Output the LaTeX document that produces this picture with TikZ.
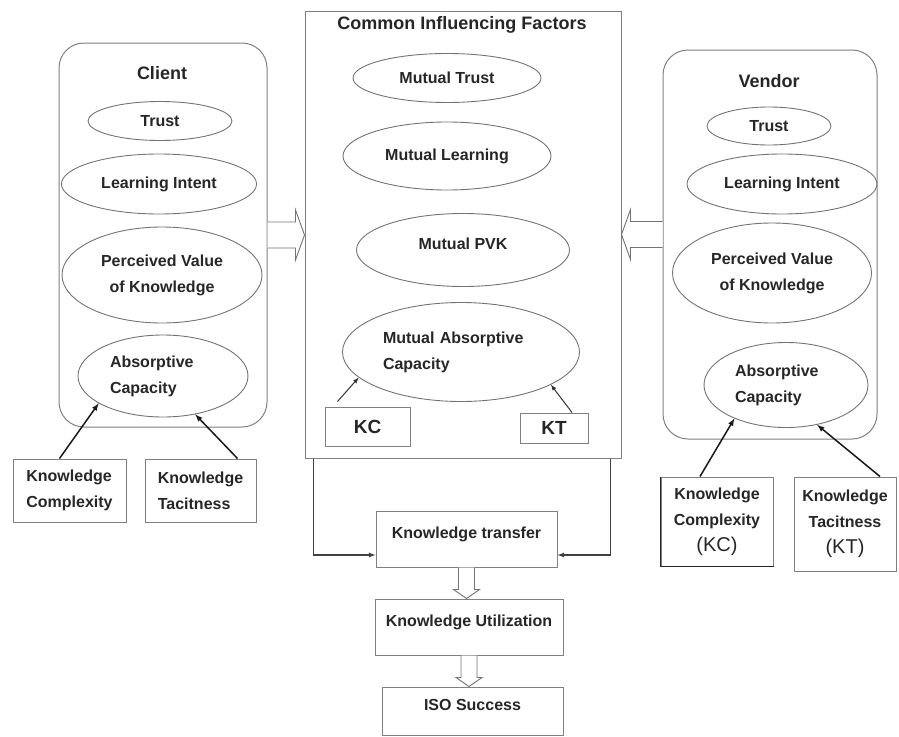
\documentclass[tikz,border=0pt]{standalone}
\usepackage{fontspec}
\setmainfont{Liberation Sans}
\usetikzlibrary{shapes.geometric,calc}

\begin{document}
\begin{tikzpicture}[x=1pt,y=-1pt,
		every node/.style={font=\fontsize{16}{26}\selectfont\bfseries, text=black!85},
		title/.style={font=\fontsize{18}{22}\selectfont\bfseries},
		frame/.style={draw=black!50, line width=1pt},
		oval/.style={ellipse, draw=black!55, line width=0.9pt, inner sep=1pt},
		kbox/.style={rectangle, draw=black!50, line width=1pt},
		textup/.style={text height=12pt, text depth=14pt},
		hollow/.style={draw=black!55, line width=0.9pt, fill=white},
		link/.style={draw=black!90, line width=1.5pt, -latex},
		thinlink/.style={draw=black!80, line width=1pt, -latex}]
		\useasboundingbox (0,0) rectangle (899,736);
		\node[frame, rounded corners=25pt, minimum width=208pt, minimum height=384pt] (client) at (163,235) {};
		\node[title] (clienttitle) at (162,73) {Client};
		\node[oval, minimum width=144pt, minimum height=39pt] (ctrust) at (160,121) {Trust};
		\node[oval, minimum width=195pt, minimum height=60pt] (clearn) at (159,184) {Learning Intent};
		\node[oval, minimum width=200pt, minimum height=96pt, align=center] (cpvk) at (162,275) {Perceived Value\\of Knowledge};
		\node[oval, minimum width=170pt, minimum height=82pt, text width=106pt, align=left] (cabs) at (163,376) {Absorptive\\Capacity};
		\node[kbox, minimum width=113pt, minimum height=63pt, align=left] (ckc) at (69.5,490.5) {Knowledge\\Complexity};
		\node[kbox, minimum width=111pt, minimum height=63pt, align=left] (ckt) at (200.5,490.5) {Knowledge\\Tacitness};
		\node[frame, minimum width=316pt, minimum height=447pt] (common) at (463,234.5) {};
		\node[title] (commontitle) at (462,25) {Common Influencing Factors};
		\node[oval, minimum width=188pt, minimum height=49pt] (mtrust) at (447,78) {Mutual Trust};
		\node[oval, minimum width=208pt, minimum height=68pt] (mlearn) at (447,156) {Mutual Learning};
		\node[oval, textup, minimum width=213pt, minimum height=73pt] (mpvk) at (463,250) {Mutual PVK};
		\node[oval, minimum width=237pt, minimum height=99pt, text width=156pt, align=left] (mabs) at (461,352) {Mutual Absorptive\\Capacity};
		\node[kbox, font=\fontsize{19}{22}\selectfont\bfseries, minimum width=85pt, minimum height=39pt] (mkc) at (367.5,426.5) {KC};
		\node[kbox, font=\fontsize{19}{22}\selectfont\bfseries, minimum width=68pt, minimum height=30pt] (mkt) at (554,428) {KT};
		\node[frame, rounded corners=25pt, minimum width=214pt, minimum height=389pt] (vendor) at (770,244.5) {};
		\node[title] (vendortitle) at (769,81) {Vendor};
		\node[oval, minimum width=124pt, minimum height=38pt] (vtrust) at (769,126) {Trust};
		\node[oval, minimum width=190pt, minimum height=60pt] (vlearn) at (782,184) {Learning Intent};
		\node[oval, minimum width=199pt, minimum height=100pt, align=center] (vpvk) at (772,273) {Perceived Value\\of Knowledge};
		\node[oval, minimum width=164pt, minimum height=85pt, text width=102pt, align=left] (vabs) at (786,385) {Absorptive\\Capacity};
		\node[kbox, minimum width=112pt, minimum height=89pt, align=center] (vkc) at (717,521.5) {Knowledge\\Complexity\\{\fontsize{20}{24}\selectfont\mdseries (KC)}};
		\node[kbox, minimum width=102pt, minimum height=94pt, align=center] (vkt) at (845,524) {Knowledge\\Tacitness\\{\fontsize{20}{24}\selectfont\mdseries (KT)}};
		\draw[line width=1.8pt, black!85] (vkc.north west) -- (vkc.south west) -- (vkc.south east);
		\node[kbox, textup, minimum width=181pt, minimum height=56pt] (ktrans) at (466.5,539) {Knowledge transfer};
		\node[kbox, textup, minimum width=188pt, minimum height=56pt] (kutil) at (469,627) {Knowledge Utilization};
		\node[kbox, textup, minimum width=181pt, minimum height=48pt] (iso) at (472.5,711) {ISO Success};
		\draw[link] ([xshift=-10pt]ckc.north) -- (cabs.203);
		\draw[link] ([xshift=37pt]ckt.north) -- (cabs.-50);
		\draw[link] ([xshift=-17pt]vkc.north) -- (vabs.213);
		\draw[link] ([xshift=35pt]vkt.north) -- (vabs.-52);
		\draw[thinlink] ([xshift=-30pt,yshift=5pt]mkc.north) -- (mabs.194);
		\draw[thinlink] ([xshift=18pt]mkt.north) -- (mabs.-20);
		\draw[link, black!75, line width=1.3pt] ([xshift=9pt]common.south west) |- ([yshift=-16pt]ktrans.west);
		\draw[link, black!75, line width=1.3pt] ([xshift=-11pt]common.south east) |- ([yshift=-16pt]ktrans.east);
		\draw[hollow] ($(client.east)+(0,-13)$) -- ++(28,0) -- ++(0,-12) -- (common.west |- client.east) -- ($(client.east)+(28,25)$) -- ++(0,-12) -- ($(client.east)+(0,13)$);
		\draw[hollow] ($(vendor.west)+(0,-23)$) -- ++(-32,0) -- ++(0,-12) -- (common.east) -- ($(vendor.west)+(-32,15)$) -- ++(0,-12) -- ($(vendor.west)+(0,3)$);
		\draw[hollow] ($(ktrans.south)+(-8,0)$) -- ($(ktrans.south |- kutil.north)+(-8,-9)$) -- ++(-5,0) -- (ktrans.south |- kutil.north) -- ++(13,-9) -- ++(-5,0) -- ($(ktrans.south)+(8,0)$);
		\draw[hollow] ($(kutil.south)+(-8,0)$) -- ($(kutil.south |- iso.north)+(-8,-9)$) -- ++(-5,0) -- (kutil.south |- iso.north) -- ++(13,-9) -- ++(-5,0) -- ($(kutil.south)+(8,0)$);
	\end{tikzpicture}
\end{document}
